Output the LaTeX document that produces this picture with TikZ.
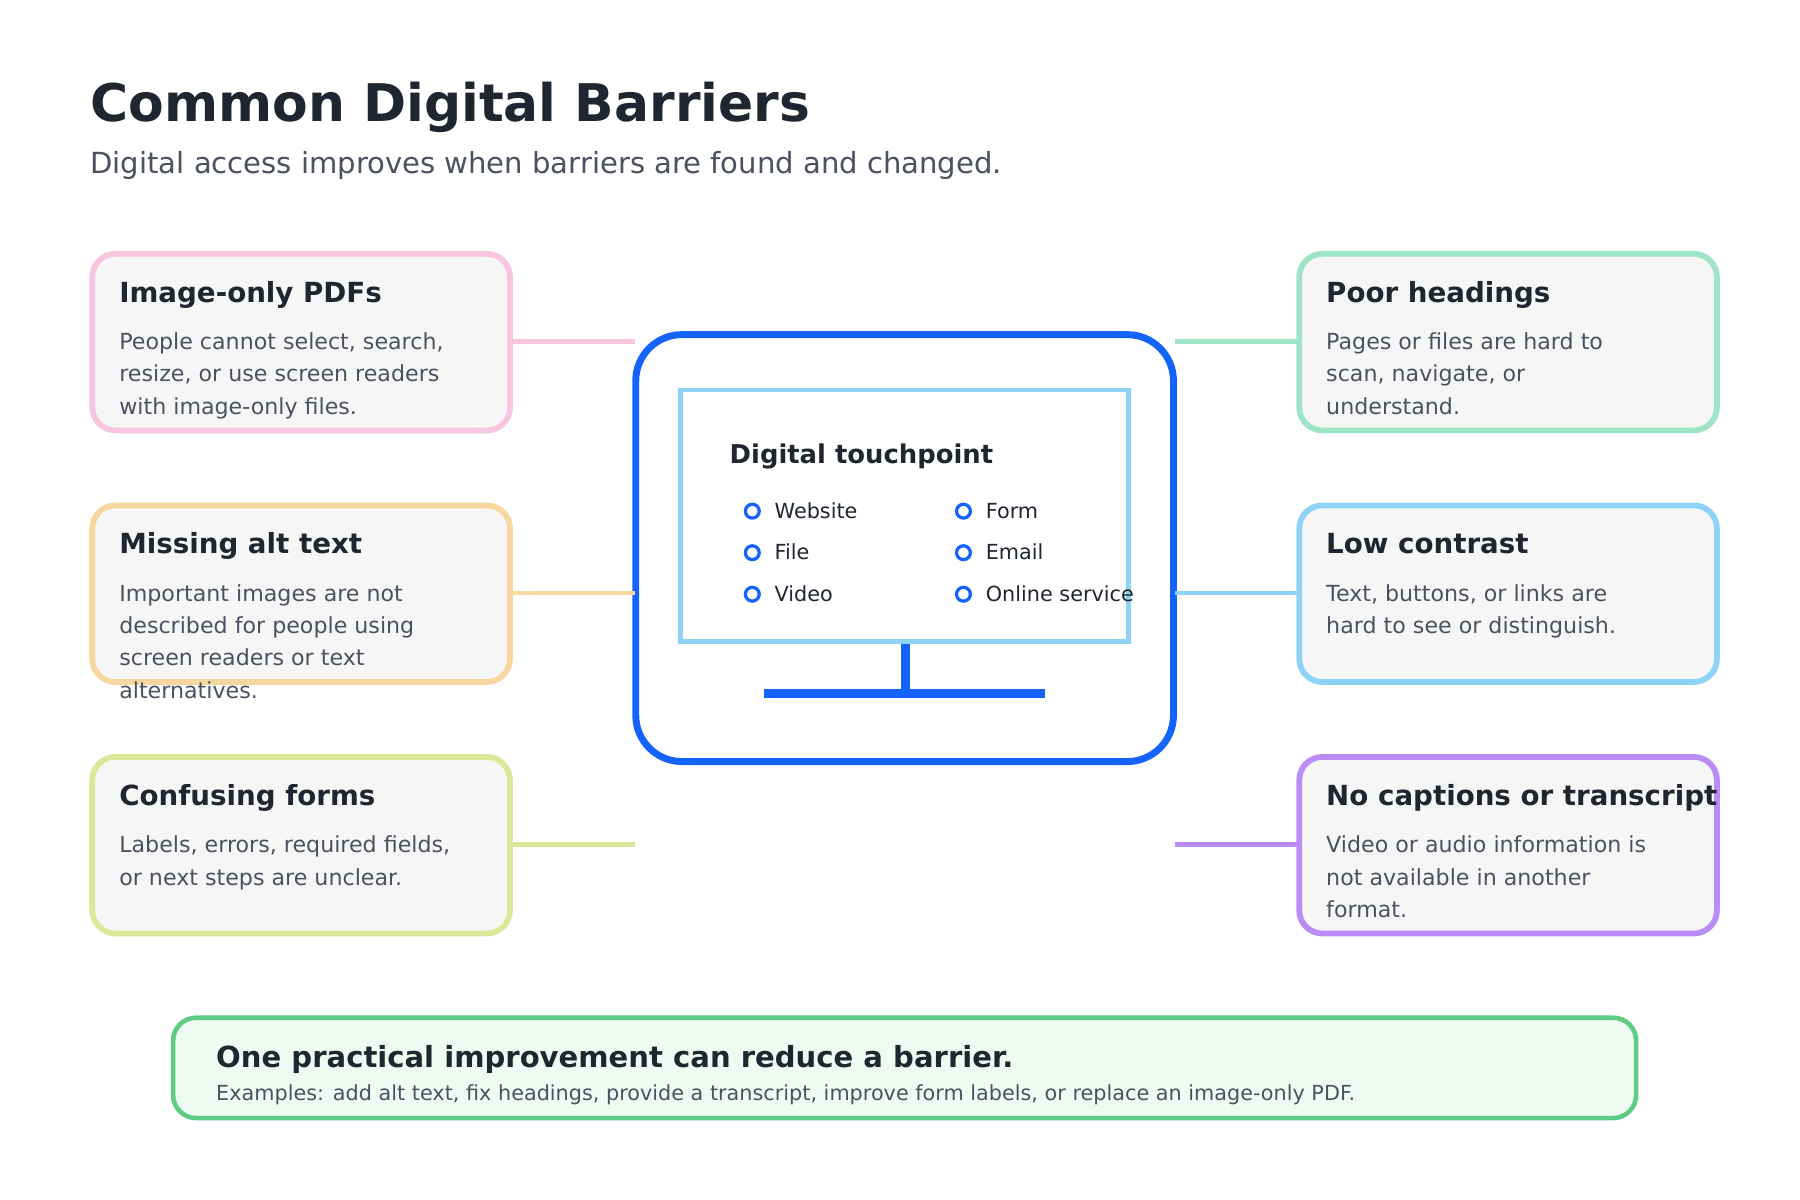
\documentclass[tikz,border=0pt]{standalone}
\usepackage{fontspec}
\setmainfont{DejaVu Sans}
\definecolor{ink}{HTML}{1F2630}
\definecolor{body}{HTML}{4A5260}
\definecolor{cpink}{HTML}{F7C6DE}
\definecolor{corange}{HTML}{F7D6A0}
\definecolor{clime}{HTML}{DCE79A}
\definecolor{cgreen}{HTML}{A0E4C8}
\definecolor{cblue}{HTML}{8ED3F7}
\definecolor{cpurple}{HTML}{B98CF7}
\definecolor{mblue}{HTML}{1463FF}
\definecolor{bgreen}{HTML}{5FCB85}
\definecolor{bfill}{HTML}{EEFBF2}
\definecolor{cfill}{HTML}{F6F6F6}
\begin{document}
\begin{tikzpicture}[x=0.5pt,y=-0.5pt,
 card/.style={line width=2.5pt,fill=cfill,rounded corners=10pt},
 link/.style={line width=2pt},
 ttl/.style={anchor=base west,inner sep=0,text=ink,font=\bfseries\fontsize{12}{14}\selectfont},
 txt/.style={anchor=base west,inner sep=0,text=body,font=\fontsize{9.6}{12}\selectfont},
 bul/.style={circle,draw=mblue,line width=1.4pt,minimum size=6pt,inner sep=0},
 btx/.style={anchor=base west,inner sep=0,text=ink,font=\fontsize{9}{11}\selectfont}]
\useasboundingbox[fill=white] (0,0) rectangle (1560,1040);
\node[anchor=base west,inner sep=0,text=ink,font=\bfseries\fontsize{22.5}{26}\selectfont] (title) at (78,105) {Common Digital Barriers};
\node[anchor=base west,inner sep=0,text=body,font=\fontsize{12.6}{15}\selectfont] (sub) at (78,150) {Digital access improves when barriers are found and changed.};
% monitor
\draw[mblue,line width=3pt,rounded corners=20pt] (551,290) rectangle (1017,660);
\node (mon) at (784,475) {};
\draw[cblue,line width=2pt] (590,338) rectangle (978,556);
\draw[mblue,line width=4pt] (785,558) -- (785,601);
\draw[mblue,line width=4pt] (662,601) -- (906,601);
\node[ttl,font=\bfseries\fontsize{11.2}{13}\selectfont] (dt) at (632,402) {Digital touchpoint};
\foreach \y/\a/\b [count=\i] in {443/Website/Form,479/File/Email,515/Video/Online service}{
 \node[bul] (ba\i) at (652,\y) {}; \node[btx] (ta\i) at (671,\y+6) {\a};
 \node[bul] (bb\i) at (835,\y) {}; \node[btx] (tb\i) at (854,\y+6) {\b};}
% cards
\newcommand{\mycard}[5]{%
 \draw[card,draw=#3] (#1,#2) rectangle ++(362,153);
 \node[ttl] at (#1+23,#2+42) {#4};
 \foreach \l [count=\k] in {#5}{\node[txt] at (#1+23,#2+55+28*\k) {\l};}}
\mycard{80}{220}{cpink}{Image-only PDFs}{{People cannot select, search,},{resize, or use screen readers},{with image-only files.}}
\mycard{80}{438}{corange}{Missing alt text}{{Important images are not},{described for people using},{screen readers or text},{alternatives.}}
\mycard{80}{656}{clime}{Confusing forms}{{Labels, errors, required fields,},{or next steps are unclear.}}
\mycard{1126}{220}{cgreen}{Poor headings}{{Pages or files are hard to},{scan, navigate, or},{understand.}}
\mycard{1126}{438}{cblue}{Low contrast}{{Text, buttons, or links are},{hard to see or distinguish.}}
\mycard{1126}{656}{cpurple}{No captions or transcript}{{Video or audio information is},{not available in another},{format.}}
\draw[link,cpink] (442,296) -- (550,296);
\draw[link,corange] (442,514) -- (550,514);
\draw[link,clime] (442,732) -- (550,732);
\draw[link,cgreen] (1018,296) -- (1126,296);
\draw[link,cblue] (1018,514) -- (1126,514);
\draw[link,cpurple] (1018,732) -- (1126,732);
% bottom
\draw[line width=2pt,draw=bgreen,fill=bfill,rounded corners=10pt] (150,882) rectangle (1418,969);
\node[ttl,font=\bfseries\fontsize{12.6}{15}\selectfont] (bt) at (187,925) {One practical improvement can reduce a barrier.};
\node[txt,font=\fontsize{9}{11}\selectfont] (bx) at (187,954) {Examples: add alt text, fix headings, provide a transcript, improve form labels, or replace an image-only PDF.};
\end{tikzpicture}
\end{document}
